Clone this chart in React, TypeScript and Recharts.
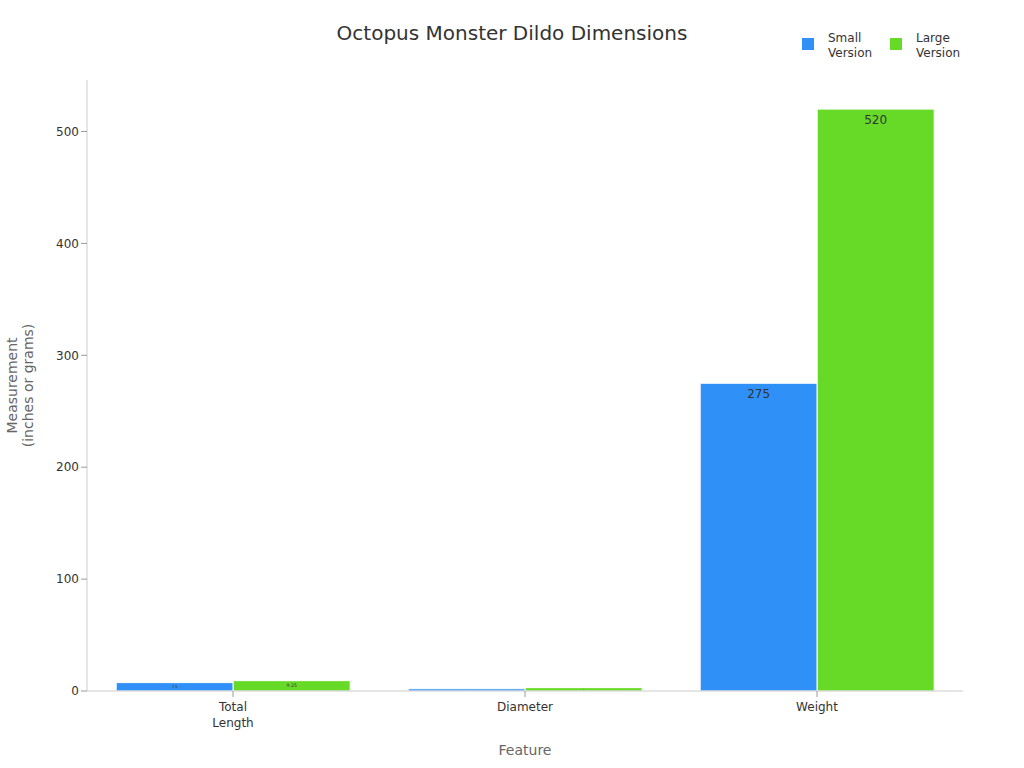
import React from 'react';
import {
    BarChart,
    Bar,
    XAxis,
    YAxis,
    LabelList,
} from 'recharts';

const features = ['Total Length', 'Diameter', 'Weight'];
const smallVersion = [7.5, 2, 275];
const largeVersion = [9.25, 3, 520];
const yTicks = [0, 100, 200, 300, 400, 500];

const BLUE = '#2f91f7';
const GREEN = '#67da27';
const FONT = '"DejaVu Sans", sans-serif';

const data = features.map((f, i) => ({
    feature: f,
    small: smallVersion[i],
    large: largeVersion[i],
}));

// labels shrink with the bar so the tiny bars still carry their value
function ValueLabel(props: any) {
    const { x, y, width, height, value } = props;
    const fs = Math.min(12, Math.max(1, height * 0.45));
    const cy = y + Math.min(11, height / 2);
    return (
        <text
            x={x + width / 2}
            y={cy}
            textAnchor="middle"
            dominantBaseline="central"
            fontSize={fs}
            fill="#333"
            fontFamily={FONT}
        >
            {value}
        </text>
    );
}

function FeatureTick(props: any) {
    const { x, y, payload } = props;
    const words = String(payload.value).split(' ');
    return (
        <text x={x} y={y} textAnchor="middle" fontSize={12} fill="#333" fontFamily={FONT}>
            {words.map((w, i) => (
                <tspan key={i} x={x} dy={i === 0 ? 12 : 16}>
                    {w}
                </tspan>
            ))}
        </text>
    );
}

function TopLegend() {
    const items = [
        { color: BLUE, lines: ['Small', 'Version'] },
        { color: GREEN, lines: ['Large', 'Version'] },
    ];
    return (
        <svg
            width={200}
            height={40}
            style={{ position: 'absolute', left: 802, top: 30, overflow: 'visible' }}
        >
            {items.map((it, i) => (
                <g key={i} transform={`translate(${i * 88}, 0)`}>
                    <rect x={0} y={8} width={12} height={12} fill={it.color} />
                    <text fontSize={12} fill="#333" fontFamily={FONT}>
                        {it.lines.map((l, j) => (
                            <tspan key={j} x={26} y={12 + j * 15}>
                                {l}
                            </tspan>
                        ))}
                    </text>
                </g>
            ))}
        </svg>
    );
}

export default function App() {
    return (
        <div style={{ position: 'absolute', left: 0, top: 0, width: 1024, height: 768, background: '#fff' }}>
            <div
                style={{
                    position: 'absolute',
                    top: 21,
                    left: 0,
                    width: 1024,
                    textAlign: 'center',
                    fontFamily: FONT,
                    fontSize: 20,
                    color: '#333',
                }}
            >
                Octopus Monster Dildo Dimensions
            </div>
            <TopLegend />
            <BarChart
                width={1024}
                height={768}
                data={data}
                margin={{ top: 80, right: 61, bottom: 0, left: 0 }}
                barCategoryGap="10%"
                barGap={0}
            >
                <XAxis
                    dataKey="feature"
                    height={77}
                    stroke="#ccc"
                    tickLine={{ stroke: '#999' }}
                    tick={<FeatureTick />}
                    label={{
                        value: 'Feature',
                        position: 'insideBottom',
                        offset: 13,
                        fill: '#666',
                        fontSize: 14,
                        fontFamily: FONT,
                    }}
                />
                <YAxis
                    width={87}
                    domain={[0, 546]}
                    ticks={yTicks}
                    stroke="#ccc"
                    tickLine={{ stroke: '#999' }}
                    tick={{ fontSize: 12, fill: '#333', fontFamily: FONT }}
                    label={({ viewBox }: any) => {
                        const cx = 20;
                        const cy = viewBox.y + viewBox.height / 2;
                        return (
                            <text
                                transform={`rotate(-90, ${cx}, ${cy})`}
                                x={cx}
                                y={cy}
                                textAnchor="middle"
                                fontSize={14}
                                fill="#666"
                                fontFamily={FONT}
                            >
                                <tspan x={cx} dy={-3}>Measurement</tspan>
                                <tspan x={cx} dy={16}>(inches or grams)</tspan>
                            </text>
                        );
                    }}
                />
                <Bar dataKey="small" name="Small Version" fill={BLUE} stroke="#fff" strokeWidth={1} isAnimationActive={false}>
                    <LabelList dataKey="small" content={<ValueLabel />} />
                </Bar>
                <Bar dataKey="large" name="Large Version" fill={GREEN} stroke="#fff" strokeWidth={1} isAnimationActive={false}>
                    <LabelList dataKey="large" content={<ValueLabel />} />
                </Bar>
            </BarChart>
        </div>
    );
}
